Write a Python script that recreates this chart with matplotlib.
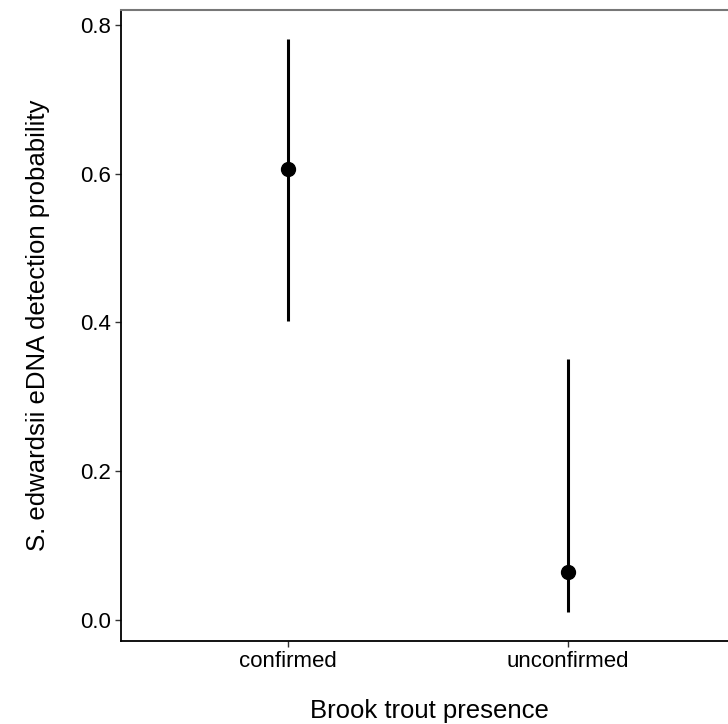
import matplotlib
matplotlib.use("Agg")
import matplotlib.pyplot as plt

# data
groups = ["confirmed", "unconfirmed"]
est = [0.606, 0.064]
lower = [0.402, 0.011]
upper = [0.781, 0.351]
yticks = [0.0, 0.2, 0.4, 0.6, 0.8]

plt.rcParams['font.family'] = ['Liberation Sans', 'DejaVu Sans']

W, H = 728, 724
fig = plt.figure(figsize=(W/100, H/100), dpi=100)
ax = fig.add_axes([121/W, 1 - 641/H, 1 - 121/W, (641 - 10)/H])

xs = [1, 2]
ax.vlines(xs, lower, upper, color='black', linewidth=2.2, zorder=2)
ax.plot(xs, est, 'o', color='black', markersize=10, zorder=3)

ax.set_xlim(0.404, 2.571)
ax.set_ylim(-0.0282, 0.820)
ax.set_xticks(xs)
ax.set_xticklabels(groups)
ax.set_yticks(yticks)
ax.set_yticklabels([f"{v:.1f}" for v in yticks])

ax.tick_params(axis='both', labelsize=16, length=4, width=1, color='#333333',
               labelcolor='black', pad=3)

ax.spines['right'].set_visible(False)
ax.spines['top'].set_color('#777777')
ax.spines['top'].set_linewidth(1.5)
ax.spines['left'].set_linewidth(1.3)
ax.spines['bottom'].set_linewidth(1.3)

ax.set_xlabel("Brook trout presence", fontsize=18.5, va='center')
ax.set_ylabel("S. edwardsii eDNA detection probability", fontsize=18.5, va='center')
ax.xaxis.set_label_coords((429 - 121) / 607, (641 - 711) / 631)
ax.yaxis.set_label_coords((38 - 121) / 607, (641 - 325) / 631)

fig.savefig("out.png", dpi=100)
